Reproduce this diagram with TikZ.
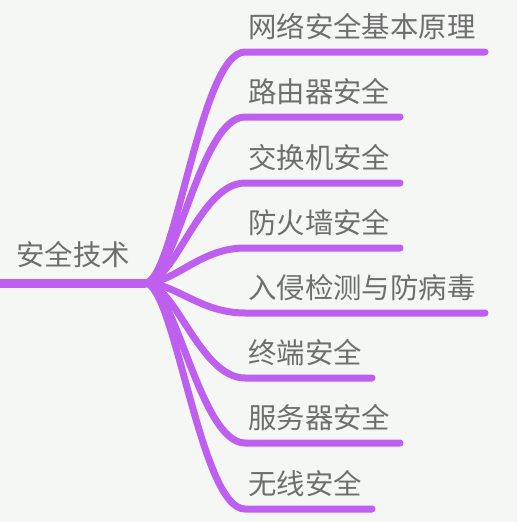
\documentclass[tikz,border=0pt]{standalone}
\usepackage{fontspec}
\setmainfont{Noto Sans CJK SC}
\usetikzlibrary{calc}

\definecolor{bgcol}{HTML}{F5F7F5}
\definecolor{linecol}{HTML}{BF5FF0}
\definecolor{textcol}{HTML}{6E6E6E}

\tikzset{
  topic/.style={anchor=west, inner sep=0pt, text=textcol,
    font=\fontsize{28.4}{32}\selectfont},
  branch/.style={draw=linecol, line width=7pt, line cap=round},
  trunk/.style={draw=linecol, line width=9pt, line cap=round}
}

\begin{document}
\begin{tikzpicture}[x=1pt, y=-1pt]
\useasboundingbox[fill=bgcol] (0,0) rectangle (517,522);
% root topic
\coordinate (rootstart) at (-10,283);
\coordinate (hub) at (145,283);
\node[topic] (root) at (16,255) {安全技术};
\draw[trunk] (rootstart) -- (hub);
% subtopics: label / underline y / underline end
\foreach \label/\ypos/\xend [count=\i] in {
  网络安全基本原理/52/485,
  路由器安全/117/400,
  交换机安全/183/400,
  防火墙安全/248/400,
  入侵检测与防病毒/313/485,
  终端安全/378/372,
  服务器安全/443/400,
  无线安全/509/372}
{
  \coordinate (u\i) at (245,\ypos);
  \coordinate (e\i) at (\xend,\ypos);
  \node[topic] (c\i) at (248,\ypos-25) {\label};
  \draw[branch] (hub) .. controls +(30,0) and +(-45,0) .. (u\i) -- (e\i);
}
\end{tikzpicture}
\end{document}
